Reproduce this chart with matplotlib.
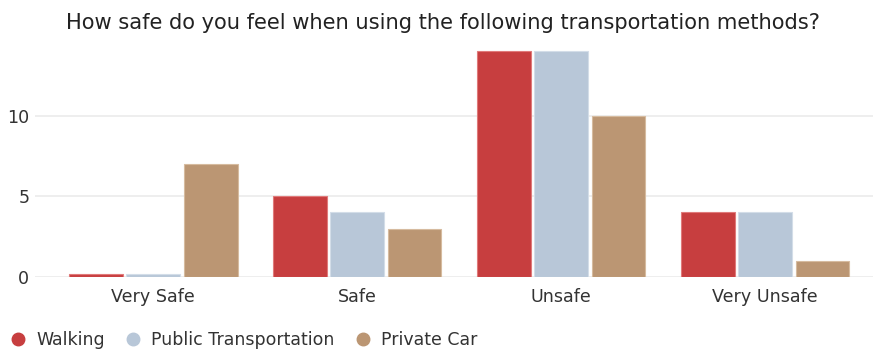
import matplotlib
matplotlib.use("Agg")
import matplotlib.pyplot as plt
from matplotlib.lines import Line2D
import numpy as np

categories = ["Very Safe", "Safe", "Unsafe", "Very Unsafe"]
series_names = ["Walking", "Public Transportation", "Private Car"]
walking = [0.2, 5, 14, 4]
public_transport = [0.2, 4, 14, 4]
private_car = [7, 3, 10, 1]
y_ticks = [0, 5, 10]

colors = ["#C73E3F", "#B8C7D8", "#BB9673"]
edges = ["#E07A7A", "#D3DDE8", "#D6BB9F"]

plt.rcParams["font.family"] = ["DejaVu Sans"]

fig = plt.figure(figsize=(8.75, 3.51), dpi=100)
ax = fig.add_axes([0.040, 0.211, 0.958, 0.677])

x = np.arange(len(categories))
width = 0.264
offset = 0.281
for i, (vals, c, ec) in enumerate(zip([walking, public_transport, private_car], colors, edges)):
    ax.bar(x + (i - 1) * offset, vals, width=width, color=c, edgecolor=ec,
           linewidth=0.8, zorder=3)

ax.set_xlim(-0.58, 3.53)
ax.set_ylim(0, 14.74)
ax.set_xticks(x)
ax.set_xticklabels(categories, fontsize=12.6, color="#333333")
ax.set_yticks(y_ticks)
ax.set_yticklabels([str(t) for t in y_ticks], fontsize=12.6, color="#333333")
ax.tick_params(axis="both", length=0)
ax.tick_params(axis="x", pad=8)
ax.tick_params(axis="y", pad=4)
ax.grid(axis="y", color="#EBEBEB", linewidth=1.2, zorder=0)
for s in ax.spines.values():
    s.set_visible(False)

fig.text(0.506, 0.935, "How safe do you feel when using the following transportation methods?",
         ha="center", va="center", fontsize=15.1, color="#222222")

handles = [Line2D([], [], marker="o", linestyle="none", markersize=9,
                  markerfacecolor=c, markeredgecolor=c) for c in colors]
fig.legend(handles, series_names, loc="center left", bbox_to_anchor=(0.001, 0.031),
           ncol=3, frameon=False, fontsize=12.5, handletextpad=0.44,
           columnspacing=1.02, handlelength=1.2, borderaxespad=0,
           labelcolor="#333333")

fig.savefig("out.png", dpi=100, facecolor="white")
